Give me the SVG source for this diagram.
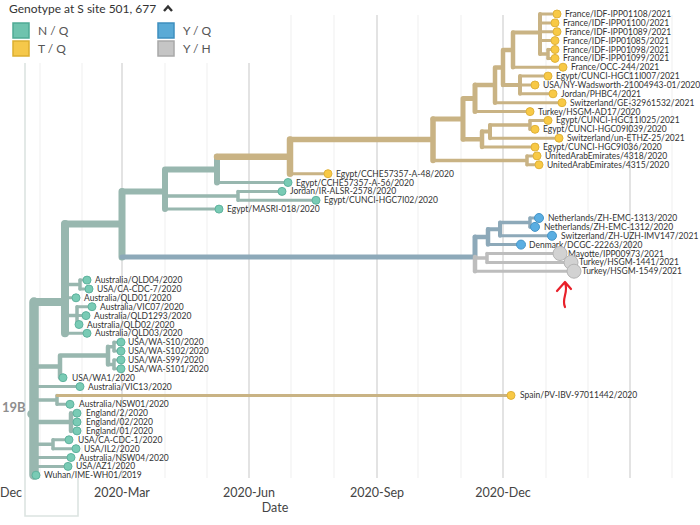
<svg xmlns="http://www.w3.org/2000/svg" width="700" height="525" viewBox="0 0 700 525">
<style>
text{font-family:Lato,"Open Sans","Liberation Sans",sans-serif}
.tl{font-size:8.5px;fill:#333}
.ax{font-size:12.5px;fill:#444;text-anchor:middle}
.lg{font-size:12px;fill:#555}
.b{fill:none;stroke-linecap:round;stroke-linejoin:round}
.nqb{stroke:#98B7AF}.tqb{stroke:#C9B384}.yqb{stroke:#8DA9B9}.yhb{stroke:#BDBDBD}
.nq{fill:#79CBB5;stroke:#5FB39E;stroke-width:1}
.tq{fill:#F8C945;stroke:#E0B23A;stroke-width:1}
.yq{fill:#5AAEE2;stroke:#4595C8;stroke-width:1}
.yh{fill:#D2D2D2;stroke:#B4B4B4;stroke-width:1}
.gm{stroke:#EFEFEF;stroke-width:1}
.gM{stroke:#DDDDDD;stroke-width:1.6}
</style>
<rect width="700" height="525" fill="#fff"/>
<g id="grid">
<path class="gm" d="M40,63V478M82,63V478M165,63V478M207,63V478M291,15V478M334,15V478M418,15V478M461,15V478M546,15V478M588,15V478M672,15V478"/>
<path class="gM" d="M122,63V478M249,63V478M377,15V478M503,15V478M630,15V478"/>
<path d="M25,63V516H78V478" fill="none" stroke="#DCE4E1" stroke-width="1.6"/>
</g>
<g id="legend">
<text x="9" y="13" style="font-size:12px;fill:#333">Genotype at S site 501, 677</text>
<path d="M164,11L168,6.5L172,11" fill="none" stroke="#333" stroke-width="2.4"/>
<rect x="13" y="23" width="16" height="15" fill="#6FC3AE" stroke="#4FAA95" stroke-width="1.5"/>
<rect x="13" y="41" width="16" height="15" fill="#F5C84A" stroke="#DCAE2F" stroke-width="1.5"/>
<rect x="158" y="23" width="16" height="15" fill="#5AAAD6" stroke="#3E8FBF" stroke-width="1.5"/>
<rect x="158" y="41" width="16" height="15" fill="#C5C5C5" stroke="#A8A8A8" stroke-width="1.5"/>
<text class="lg" x="38" y="35">N / Q</text>
<text class="lg" x="38" y="53">T / Q</text>
<text class="lg" x="183" y="35">Y / Q</text>
<text class="lg" x="183" y="53">Y / H</text>
</g>
<g id="connectors">
<path class="b nqb" stroke-width="9.5" d="M32,414H34M34,302V475.2"/>
<path class="b nqb" stroke-width="8" d="M34,302H65M65,224V333.3"/>
<path class="b nqb" stroke-width="7" d="M65,224H122M122,191.5V257"/>
<path class="b nqb" stroke-width="6" d="M122,191.5H165M165,169.6V209.1M165,169.6H217M217,156.7V182.5"/>
<path class="b nqb" stroke-width="3.5" d="M165,195.9H238M238,191.4V200.3M65,284.6H80M80,280.1V289M65,315.6H77M77,306.7V324.5M108,346.7H114M114,342.2V351.1M108,364.4H114M114,359.9V368.8M34,399.9H57M57,395.4V404.3M34,444.3H53M53,439.8V448.7"/>
<path class="b nqb" stroke-width="4.5" d="M34,366.6H60M60,355.5V377.7M60,355.5H108M108,346.7V364.4M34,422H71M71,413.2V430.9"/>
<path class="b nqb" stroke-width="3" d="M217,182.5H288M238,191.4H282M238,200.3H316M165,209.1H219M80,280.1H87M80,289H89M65,297.8H76M77,306.7H92M77,315.6H86M77,324.5H79M65,333.3H87M114,342.2H121M114,351.1H121M114,359.9H121M114,368.8H121M60,377.7H63M34,386.6H80M57,404.3H70M71,413.2H77M71,422H77M71,430.9H77M53,439.8H69M53,448.7H76M34,457.5H71M34,466.4H68M34,475.2H36"/>
<path class="b tqb" stroke-width="6.5" d="M217,156.7H290M290,139.6V173.7"/>
<path class="b tqb" stroke-width="5.5" d="M290,139.6H433M433,118.9V160.4"/>
<path class="b tqb" stroke-width="5" d="M433,118.9H463M463,98.4V139.3M463,98.4H475M475,85.1V111.6"/>
<path class="b tqb" stroke-width="4.5" d="M475,85.1H495M495,67.5V102.7M495,67.5H503M503,49.9V85M503,49.9H513M513,32.6V67.2M463,139.3H482M482,131.5V147.1"/>
<path class="b tqb" stroke-width="4" d="M513,32.6H540M540,14V54M503,85H520M520,76.1V93.8M482,131.5H490M490,124.9V138.2"/>
<path class="b tqb" stroke-width="3.5" d="M540,54H548M548,49.5V58.4M490,124.9H530M530,120.4V129.3M433,160.4H527M527,155.9V164.8"/>
<path class="b tqb" stroke-width="3" d="M540,14H557M540,22.9H555M540,31.7H557M540,40.6H555M548,49.5H555M548,58.4H555M513,67.2H563M520,76.1H548M520,85H535M520,93.8H553M495,102.7H562M475,111.6H530M530,120.4H548M530,129.3H535M490,138.2H559M482,147.1H535M527,155.9H537M527,164.8H539M290,173.7H328M57,395.4H511"/>
<path class="b yqb" stroke-width="5" d="M122,257H475M475,236.9V257"/>
<path class="b yqb" stroke-width="4.5" d="M475,236.9H488M488,229.2V244.6"/>
<path class="b yqb" stroke-width="4" d="M488,229.2H500M500,222.5V235.8"/>
<path class="b yqb" stroke-width="3.5" d="M500,222.5H530M530,218V226.9"/>
<path class="b yqb" stroke-width="3" d="M530,218H539M530,226.9H535M500,235.8H552M488,244.6H521"/>
<path class="b yhb" stroke-width="4.5" d="M475,257V271.2"/>
<path class="b yhb" stroke-width="3.5" d="M475,258H487M487,253.5V262.4"/>
<path class="b yhb" stroke-width="3" d="M487,253.5H560M487,262.4H571M475,271.2H574"/>
</g>
<g id="tips">
<g id="t1"><circle class="tq" cx="557" cy="14" r="4"/><text class="tl" x="565" y="17">France/IDF-IPP01108/2021</text></g>
<g id="t2"><circle class="tq" cx="555" cy="22.9" r="4"/><text class="tl" x="563" y="25.9">France/IDF-IPP01100/2021</text></g>
<g id="t3"><circle class="tq" cx="557" cy="31.7" r="4"/><text class="tl" x="565" y="34.7">France/IDF-IPP01089/2021</text></g>
<g id="t4"><circle class="tq" cx="555" cy="40.6" r="4"/><text class="tl" x="563" y="43.6">France/IDF-IPP01085/2021</text></g>
<g id="t5"><circle class="tq" cx="555" cy="49.5" r="4"/><text class="tl" x="563" y="52.5">France/IDF-IPP01098/2021</text></g>
<g id="t6"><circle class="tq" cx="555" cy="58.4" r="4"/><text class="tl" x="563" y="61.4">France/IDF-IPP01099/2021</text></g>
<g id="t7"><circle class="tq" cx="563" cy="67.2" r="4"/><text class="tl" x="571" y="70.2">France/OCC-244/2021</text></g>
<g id="t8"><circle class="tq" cx="548" cy="76.1" r="4"/><text class="tl" x="556" y="79.1">Egypt/CUNCI-HGC11I007/2021</text></g>
<g id="t9"><circle class="tq" cx="535" cy="85" r="4"/><text class="tl" x="543" y="88">USA/NY-Wadsworth-21004943-01/2020</text></g>
<g id="t10"><circle class="tq" cx="553" cy="93.8" r="4"/><text class="tl" x="561" y="96.8">Jordan/PHBC4/2021</text></g>
<g id="t11"><circle class="tq" cx="562" cy="102.7" r="4"/><text class="tl" x="570" y="105.7">Switzerland/GE-32961532/2021</text></g>
<g id="t12"><circle class="tq" cx="530" cy="111.6" r="4"/><text class="tl" x="538" y="114.6">Turkey/HSGM-AD17/2020</text></g>
<g id="t13"><circle class="tq" cx="548" cy="120.4" r="4"/><text class="tl" x="556" y="123.4">Egypt/CUNCI-HGC11I025/2021</text></g>
<g id="t14"><circle class="tq" cx="535" cy="129.3" r="4"/><text class="tl" x="543" y="132.3">Egypt/CUNCI-HGC09I039/2020</text></g>
<g id="t15"><circle class="tq" cx="559" cy="138.2" r="4"/><text class="tl" x="567" y="141.2">Switzerland/un-ETHZ-25/2021</text></g>
<g id="t16"><circle class="tq" cx="535" cy="147.1" r="4"/><text class="tl" x="543" y="150.1">Egypt/CUNCI-HGC9I036/2020</text></g>
<g id="t17"><circle class="tq" cx="537" cy="155.9" r="4"/><text class="tl" x="545" y="158.9">UnitedArabEmirates/4318/2020</text></g>
<g id="t18"><circle class="tq" cx="539" cy="164.8" r="4"/><text class="tl" x="547" y="167.8">UnitedArabEmirates/4315/2020</text></g>
<g id="t19"><circle class="tq" cx="328" cy="173.7" r="4"/><text class="tl" x="336" y="176.7">Egypt/CCHE57357-A-48/2020</text></g>
<g id="t20"><circle class="nq" cx="288" cy="182.5" r="4"/><text class="tl" x="296" y="185.5">Egypt/CCHE57357-A-56/2020</text></g>
<g id="t21"><circle class="nq" cx="282" cy="191.4" r="4"/><text class="tl" x="290" y="194.4">Jordan/IR-ALSR-2578/2020</text></g>
<g id="t22"><circle class="nq" cx="316" cy="200.3" r="4"/><text class="tl" x="324" y="203.3">Egypt/CUNCI-HGC7I02/2020</text></g>
<g id="t23"><circle class="nq" cx="219" cy="209.1" r="4"/><text class="tl" x="227" y="212.1">Egypt/MASRI-018/2020</text></g>
<g id="t24"><circle class="yq" cx="539" cy="218" r="4.5"/><text class="tl" x="548" y="221">Netherlands/ZH-EMC-1313/2020</text></g>
<g id="t25"><circle class="yq" cx="535" cy="226.9" r="4.5"/><text class="tl" x="544" y="229.9">Netherlands/ZH-EMC-1312/2020</text></g>
<g id="t26"><circle class="yq" cx="552" cy="235.8" r="4.5"/><text class="tl" x="561" y="238.8">Switzerland/ZH-UZH-IMV147/2021</text></g>
<g id="t27"><circle class="yq" cx="521" cy="244.6" r="4.5"/><text class="tl" x="529" y="247.6">Denmark/DCGC-22263/2020</text></g>
<g id="t28"><circle class="yh" cx="560" cy="253.5" r="7"/><text class="tl" x="568" y="256.5">Mayotte/IPP00973/2021</text></g>
<g id="t29"><circle class="yh" cx="571" cy="262.4" r="7"/><text class="tl" x="579" y="265.4">Turkey/HSGM-1441/2021</text></g>
<g id="t30"><circle class="yh" cx="574" cy="271.2" r="7"/><text class="tl" x="582" y="274.2">Turkey/HSGM-1549/2021</text></g>
<g id="t31"><circle class="nq" cx="87" cy="280.1" r="4"/><text class="tl" x="95" y="283.1">Australia/QLD04/2020</text></g>
<g id="t32"><circle class="nq" cx="89" cy="289" r="4"/><text class="tl" x="97" y="292">USA/CA-CDC-7/2020</text></g>
<g id="t33"><circle class="nq" cx="76" cy="297.8" r="4"/><text class="tl" x="84" y="300.8">Australia/QLD01/2020</text></g>
<g id="t34"><circle class="nq" cx="92" cy="306.7" r="4"/><text class="tl" x="100" y="309.7">Australia/VIC07/2020</text></g>
<g id="t35"><circle class="nq" cx="86" cy="315.6" r="4"/><text class="tl" x="94" y="318.6">Australia/QLD1293/2020</text></g>
<g id="t36"><circle class="nq" cx="79" cy="324.5" r="4"/><text class="tl" x="87" y="327.5">Australia/QLD02/2020</text></g>
<g id="t37"><circle class="nq" cx="87" cy="333.3" r="4"/><text class="tl" x="95" y="336.3">Australia/QLD03/2020</text></g>
<g id="t38"><circle class="nq" cx="121" cy="342.2" r="4"/><text class="tl" x="128" y="345.2">USA/WA-S10/2020</text></g>
<g id="t39"><circle class="nq" cx="121" cy="351.1" r="4"/><text class="tl" x="128" y="354.1">USA/WA-S102/2020</text></g>
<g id="t40"><circle class="nq" cx="121" cy="359.9" r="4"/><text class="tl" x="128" y="362.9">USA/WA-S99/2020</text></g>
<g id="t41"><circle class="nq" cx="121" cy="368.8" r="4"/><text class="tl" x="128" y="371.8">USA/WA-S101/2020</text></g>
<g id="t42"><circle class="nq" cx="63" cy="377.7" r="4"/><text class="tl" x="72" y="380.7">USA/WA1/2020</text></g>
<g id="t43"><circle class="nq" cx="80" cy="386.6" r="4"/><text class="tl" x="88" y="389.6">Australia/VIC13/2020</text></g>
<g id="t44"><circle class="tq" cx="511" cy="395.4" r="4"/><text class="tl" x="520" y="398.4">Spain/PV-IBV-97011442/2020</text></g>
<g id="t45"><circle class="nq" cx="70" cy="404.3" r="4"/><text class="tl" x="79" y="407.3">Australia/NSW01/2020</text></g>
<g id="t46"><circle class="nq" cx="77" cy="413.2" r="4"/><text class="tl" x="86" y="416.2">England/2/2020</text></g>
<g id="t47"><circle class="nq" cx="77" cy="422" r="4"/><text class="tl" x="86" y="425">England/02/2020</text></g>
<g id="t48"><circle class="nq" cx="77" cy="430.9" r="4"/><text class="tl" x="86" y="433.9">England/01/2020</text></g>
<g id="t49"><circle class="nq" cx="69" cy="439.8" r="4"/><text class="tl" x="78" y="442.8">USA/CA-CDC-1/2020</text></g>
<g id="t50"><circle class="nq" cx="76" cy="448.7" r="4"/><text class="tl" x="84" y="451.7">USA/IL2/2020</text></g>
<g id="t51"><circle class="nq" cx="71" cy="457.5" r="4"/><text class="tl" x="79" y="460.5">Australia/NSW04/2020</text></g>
<g id="t52"><circle class="nq" cx="68" cy="466.4" r="4"/><text class="tl" x="76" y="469.4">USA/AZ1/2020</text></g>
<g id="t53"><circle class="nq" cx="36" cy="475.2" r="4"/><text class="tl" x="44" y="478.2">Wuhan/IME-WH01/2019</text></g>
</g>
<g id="clade-label"><text x="2" y="412" style="font-size:13px;font-weight:bold;fill:#8E8E8E">19B</text></g>
<g id="axis">
<text class="ax" x="22" y="497" style="text-anchor:end">Dec</text>
<text class="ax" x="122" y="497">2020-Mar</text>
<text class="ax" x="249" y="497">2020-Jun</text>
<text class="ax" x="377" y="497">2020-Sep</text>
<text class="ax" x="503" y="497">2020-Dec</text>
<text class="ax" x="275" y="512">Date</text>
</g>
<g id="annotation" fill="none" stroke="#E8202A" stroke-width="2.2" stroke-linecap="round" stroke-linejoin="round">
<path d="M557,291L565,282L571,289M565,283C569,292 561,299 565,307"/>
</g>
</svg>
